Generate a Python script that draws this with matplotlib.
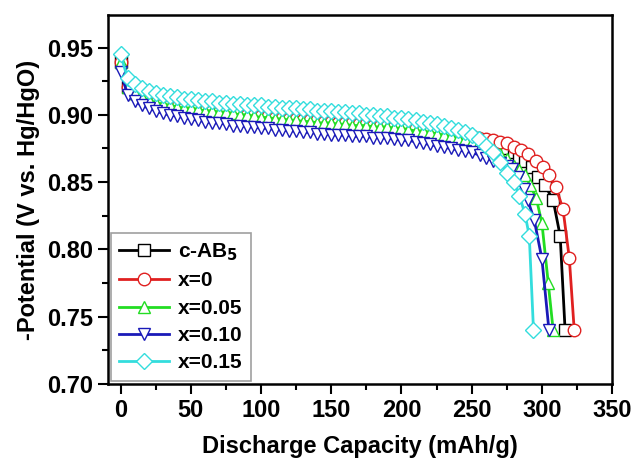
import matplotlib.pyplot as plt
from matplotlib.ticker import MultipleLocator

plt.rcParams['font.family'] = ['Liberation Sans', 'DejaVu Sans']
plt.rcParams['font.weight'] = 'bold'

# plateau capacities shared by all curves (mAh/g)
plateau_cap = [0, 5, 10, 15, 20, 25, 30, 35, 40, 45, 50, 55, 60, 65, 70, 75, 80, 85, 90, 95,
               100, 105, 110, 115, 120, 125, 130, 135, 140, 145, 150, 155, 160, 165, 170, 175,
               180, 185, 190, 195, 200, 205, 210, 215, 220, 225, 230, 235, 240, 245, 250]

# c-AB5
cab5_cap = plateau_cap + [255, 260, 265, 270, 275, 280, 284, 288, 293, 297, 302, 308, 313, 316.5]
cab5_v = [0.939, 0.921, 0.916, 0.913, 0.911, 0.909, 0.908, 0.907, 0.906, 0.905, 0.904, 0.903,
          0.903, 0.902, 0.902, 0.901, 0.900, 0.900, 0.899, 0.899, 0.898, 0.898, 0.897, 0.897,
          0.896, 0.896, 0.895, 0.895, 0.895, 0.894, 0.894, 0.893, 0.893, 0.893, 0.892, 0.892,
          0.891, 0.891, 0.891, 0.890, 0.890, 0.889, 0.889, 0.888, 0.887, 0.887, 0.886, 0.885,
          0.884, 0.883, 0.882,
          0.881, 0.880, 0.879, 0.877, 0.875, 0.872, 0.869, 0.866, 0.861, 0.854, 0.848, 0.8365,
          0.810, 0.740]

# x=0
x0_cap = plateau_cap + [255, 260, 265, 270, 275, 280, 285, 290, 296, 301, 305, 310, 315, 319.5, 323]
x0_v = [0.939, 0.921, 0.916, 0.913, 0.911, 0.909, 0.908, 0.907, 0.906, 0.905, 0.905, 0.904,
        0.903, 0.903, 0.902, 0.902, 0.901, 0.901, 0.900, 0.900, 0.899, 0.899, 0.898, 0.898,
        0.897, 0.897, 0.896, 0.896, 0.896, 0.895, 0.895, 0.894, 0.894, 0.894, 0.893, 0.893,
        0.892, 0.892, 0.892, 0.891, 0.891, 0.890, 0.890, 0.889, 0.889, 0.888, 0.887, 0.887,
        0.886, 0.885, 0.884,
        0.883, 0.882, 0.881, 0.880, 0.879, 0.876, 0.8736, 0.871, 0.866, 0.861, 0.855, 0.846,
        0.830, 0.7935, 0.740]

# x=0.05
x05_cap = plateau_cap + [255, 260, 265, 270, 275, 280, 284, 288, 291.5, 296, 300, 304.5, 308]
x05_v = [0.939, 0.921, 0.916, 0.913, 0.911, 0.909, 0.908, 0.907, 0.906, 0.905, 0.905, 0.904,
         0.903, 0.903, 0.902, 0.902, 0.901, 0.900, 0.900, 0.899, 0.898, 0.898, 0.897, 0.897,
         0.896, 0.896, 0.895, 0.895, 0.894, 0.894, 0.894, 0.893, 0.893, 0.892, 0.892, 0.892,
         0.891, 0.891, 0.891, 0.890, 0.890, 0.889, 0.888, 0.888, 0.887, 0.886, 0.885, 0.884,
         0.883, 0.882, 0.880,
         0.879, 0.877, 0.874, 0.871, 0.867, 0.862, 0.859, 0.855, 0.848, 0.838, 0.8195, 0.775,
         0.740]

# x=0.10
x10_cap = plateau_cap + [256, 260, 265, 270, 275, 279, 283, 287, 290, 294.5, 300, 305]
x10_v = [0.932, 0.915, 0.910, 0.907, 0.905, 0.903, 0.901, 0.900, 0.899, 0.898, 0.897, 0.896,
         0.895, 0.894, 0.894, 0.893, 0.892, 0.892, 0.891, 0.891, 0.890, 0.890, 0.889, 0.889,
         0.888, 0.888, 0.887, 0.887, 0.886, 0.886, 0.885, 0.885, 0.885, 0.884, 0.884, 0.884,
         0.883, 0.883, 0.8825, 0.882, 0.881, 0.881, 0.880, 0.879, 0.878, 0.877, 0.876, 0.875,
         0.874, 0.873, 0.872,
         0.870, 0.868, 0.866, 0.864, 0.862, 0.860, 0.8535, 0.845, 0.8365, 0.822, 0.793, 0.740]

# x=0.15
x15_cap = plateau_cap + [255, 260, 265, 270, 275, 280, 284, 288, 291, 294]
x15_v = [0.945, 0.927, 0.923, 0.920, 0.918, 0.916, 0.915, 0.914, 0.913, 0.912, 0.912, 0.911,
         0.910, 0.910, 0.909, 0.909, 0.908, 0.908, 0.907, 0.907, 0.907, 0.906, 0.906, 0.905,
         0.905, 0.905, 0.904, 0.904, 0.903, 0.903, 0.903, 0.902, 0.902, 0.901, 0.901, 0.900,
         0.900, 0.899, 0.899, 0.898, 0.898, 0.897, 0.896, 0.895, 0.894, 0.893, 0.892, 0.890,
         0.889, 0.887, 0.885,
         0.882, 0.877, 0.872, 0.865, 0.857, 0.850, 0.840, 0.826, 0.810, 0.740]

series = [
    ('c-AB$_\\mathbf{5}$', cab5_cap, cab5_v, 'black', 's'),
    ('x=0', x0_cap, x0_v, '#e02020', 'o'),
    ('x=0.05', x05_cap, x05_v, '#22dd22', '^'),
    ('x=0.10', x10_cap, x10_v, '#1a1ab8', 'v'),
    ('x=0.15', x15_cap, x15_v, '#33dddd', 'D'),
]

fig = plt.figure(figsize=(6.35, 4.62), dpi=100)
ax = fig.add_axes([0.170, 0.169, 0.794, 0.798])

for label, cap, v, color, marker in series:
    ms = 9 if marker != 'D' else 8
    ax.plot(cap, v, color=color, marker=marker, markersize=ms, markerfacecolor='white',
            markeredgecolor=color, markeredgewidth=1.0, linewidth=2.0, label=label)

ax.set_xlim(-9, 350)
ax.set_ylim(0.70, 0.974)
ax.xaxis.set_major_locator(MultipleLocator(50))
ax.xaxis.set_minor_locator(MultipleLocator(25))
ax.yaxis.set_major_locator(MultipleLocator(0.05))
ax.yaxis.set_minor_locator(MultipleLocator(0.025))
ax.yaxis.set_major_formatter(plt.FormatStrFormatter('%.2f'))

ax.tick_params(which='major', direction='out', length=7, width=1.5, labelsize=17)
ax.tick_params(which='minor', direction='out', length=4, width=1.5)
for sp in ax.spines.values():
    sp.set_linewidth(1.8)

ax.set_xlabel('Discharge Capacity (mAh/g)', fontsize=17, fontweight='bold', labelpad=10)
ax.set_ylabel('-Potential (V vs. Hg/HgO)', fontsize=17, fontweight='bold', labelpad=5)

leg = ax.legend(loc='lower left', fontsize=15, frameon=True, fancybox=False,
                edgecolor='#888888', handlelength=2.4, labelspacing=0.4,
                borderaxespad=0.15, handletextpad=0.4)
leg.get_frame().set_linewidth(1.2)

fig.savefig('out.png', dpi=100)
